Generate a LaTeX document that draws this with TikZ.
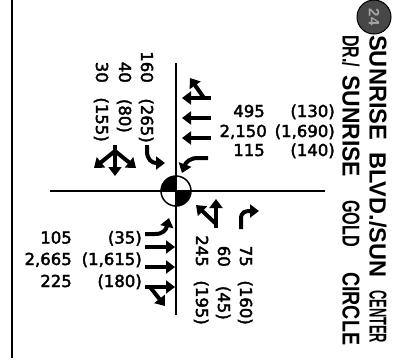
\documentclass[tikz,border=0pt]{standalone}
\usepackage{fontspec}
\setmainfont{DejaVu Sans}[FakeBold=2.5]
\newfontfamily\ttlfont{Liberation Sans}
\usetikzlibrary{arrows.meta}
\begin{document}
\begin{tikzpicture}[x=1pt,y=-1pt,
  road/.style={line width=2pt},
  lane/.style={line width=4pt,-{Triangle[length=9pt,width=13pt]}},
  vol/.style={font=\fontsize{16.5}{18}\selectfont,inner sep=0pt,anchor=base east},
  rvol/.style={vol,rotate=-90},
  ttl/.style={inner sep=0pt,rotate=-90,anchor=west}]
\useasboundingbox (0,0) rectangle (393,360);
% left border
\coordinate (bt) at (12,0);
\coordinate (bb) at (12,358);
\draw[line width=2pt] (bt) -- (bb);
% roads
\coordinate (rw) at (50,191);
\coordinate (re) at (325,191);
\coordinate (rn) at (176,63);
\coordinate (rs) at (176,315);
\draw[road] (rw) -- (re);
\draw[road] (rn) -- (rs);
% intersection symbol
\coordinate (c) at (176,191);
\fill[white] (c) circle[radius=15];
\fill (c) -- ++(180:15) arc[start angle=180,end angle=270,radius=15] -- cycle;
\fill (c) -- ++(0:15) arc[start angle=0,end angle=90,radius=15] -- cycle;
\draw[line width=1.5pt] (c) circle[radius=15];
\draw[road] (161,191) -- (191,191);
\draw[road] (176,176) -- (176,206);
% title badge
\node[circle,draw,line width=1pt,fill=black!72,minimum size=34pt,inner sep=0pt,
  text=black!35,font=\ttlfont\bfseries\fontsize{15}{15}\selectfont,rotate=-90] (badge) at (374,17) {24};
% title line 1
\node[ttl] (t1a) at (378,35) {\resizebox{105pt}{17pt}{\ttlfont\bfseries SUNRISE}};
\node[ttl] (t1b) at (378,152) {\resizebox{125pt}{17pt}{\ttlfont\bfseries BLVD./SUN}};
\node[ttl] (t1c) at (378,290) {\resizebox{53pt}{17pt}{\ttlfont\bfseries CENTER}};
% title line 2
\node[ttl] (t2a) at (351,35) {\resizebox{32pt}{17pt}{\ttlfont\bfseries DR./}};
\node[ttl] (t2b) at (351,75) {\resizebox{102pt}{17pt}{\ttlfont\bfseries SUNRISE}};
\node[ttl] (t2c) at (351,200) {\resizebox{47pt}{17pt}{\ttlfont\bfseries GOLD}};
\node[ttl] (t2d) at (351,272) {\resizebox{73pt}{17pt}{\ttlfont\bfseries CIRCLE}};
% westbound (top right)
\node[vol] (w1a) at (265,117) {495};
\node[vol] (w1b) at (335,117) {(130)};
\node[vol] (w2a) at (267,137) {2,150};
\node[vol] (w2b) at (335,137) {(1,690)};
\node[vol] (w3a) at (265,156) {115};
\node[vol] (w3b) at (335,156) {(140)};
\draw[lane] (211,98) -- (182,98);
\draw[lane] (204,98) -- (190,78);
\draw[lane] (211,118) -- (182,118);
\draw[lane] (211,138) -- (182,138);
\draw[lane] (208,158) -- (198,158) .. controls (190,158) and (186,162) .. (182,173);
% eastbound (bottom left)
\node[vol] (e1a) at (72,243.5) {105};
\node[vol] (e1b) at (142,243.5) {(35)};
\node[vol] (e2a) at (72,265) {2,665};
\node[vol] (e2b) at (142,265) {(1,615)};
\node[vol] (e3a) at (72,287) {225};
\node[vol] (e3b) at (142,287) {(180)};
\draw[lane] (145,234) -- (155,234) .. controls (163,234) and (166,230) .. (169,218);
\draw[lane] (145,247) -- (175,247);
\draw[lane] (145,267) -- (175,267);
\draw[lane] (145,287) -- (175,287);
\draw[lane] (150,287) -- (165,306);
% southbound (top left)
\node[rvol] (s1a) at (141,83) {160};
\node[rvol] (s1b) at (141,143) {(265)};
\node[rvol] (s2a) at (119,83) {40};
\node[rvol] (s2b) at (119,133) {(80)};
\node[rvol] (s3a) at (96,83) {30};
\node[rvol] (s3b) at (96,142) {(155)};
\draw[lane] (115,145) -- (115,176);
\draw[lane] (115,151) -- (94,168);
\draw[lane] (115,151) -- (136,168);
\draw[lane] (147,145) -- (147,151) .. controls (147,160) and (152,163) .. (165,163);
% northbound (bottom right)
\node[rvol] (n1a) at (240,267) {75};
\node[rvol] (n1b) at (240,325) {(160)};
\node[rvol] (n2a) at (218,267) {60};
\node[rvol] (n2b) at (218,320) {(45)};
\node[rvol] (n3a) at (196,267) {245};
\node[rvol] (n3b) at (196,325) {(195)};
\draw[lane] (216,228) -- (216,199);
\draw[lane] (215,223) -- (196,205);
\draw[lane] (241,229) -- (241,219) .. controls (241,212) and (245,211) .. (259,211);
\end{tikzpicture}
\end{document}
